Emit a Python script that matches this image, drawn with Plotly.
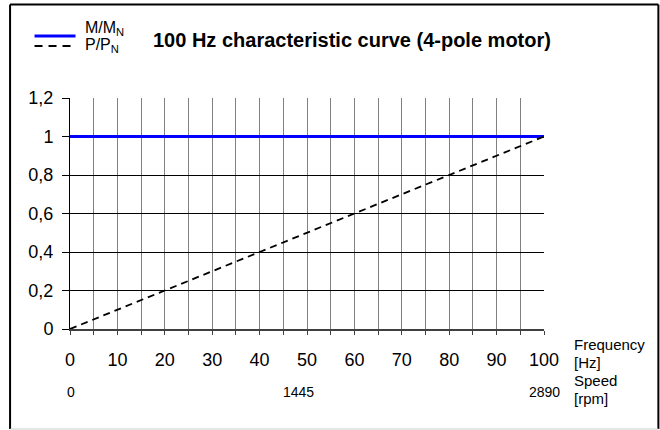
import plotly.graph_objects as go

# Characteristic curve data (frequency in Hz, normalised torque and power)
freq_hz = [0, 100]
torque_ratio = [1, 1]
power_ratio = [0, 1]

x_tick_vals = [0, 10, 20, 30, 40, 50, 60, 70, 80, 90, 100]
x_tick_text = ["0", "10", "20", "30", "40", "50", "60", "70", "80", "90", "100"]
y_tick_vals = [0, 0.2, 0.4, 0.6, 0.8, 1, 1.2]
y_tick_text = ["0", "0,2", "0,4", "0,6", "0,8", "1", "1,2"]

speed_pos_hz = [0, 50, 100]
speed_labels = ["0", "1445", "2890"]

W, H = 660, 430
L, R, T, B = 69.5, 116, 98, 101
pw, ph = W - L - R, H - T - B


def px_x(p):
    return (p - L) / pw


def px_y(p):
    return (H - B - p) / ph


FONT = "Liberation Sans, Arial, sans-serif"
DASH = "7px,5px"

fig = go.Figure()
fig.add_trace(go.Scatter(x=freq_hz, y=torque_ratio, mode="lines",
                         line=dict(color="#0000ff", width=3), name="M/M<sub>N</sub>",
                         showlegend=False, cliponaxis=False))
fig.add_trace(go.Scatter(x=freq_hz, y=power_ratio, mode="lines",
                         line=dict(color="#000000", width=1.8, dash=DASH), name="P/P<sub>N</sub>",
                         showlegend=False))

shapes = []
annotations = []

# legend keys drawn as short line samples
legend_items = [
    ("M/M<sub>N</sub>", dict(color="#0000ff", width=3), 36, 28),
    ("P/P<sub>N</sub>", dict(color="#000000", width=1.8, dash="8px,6px"), 46, 45),
]
for label, line, py, ty in legend_items:
    shapes.append(dict(type="line", xref="paper", yref="paper",
                       x0=px_x(34), x1=px_x(75), y0=px_y(py), y1=px_y(py), line=line))
    annotations.append(dict(text=label, xref="paper", yref="paper", x=px_x(83), y=px_y(ty),
                            xanchor="left", yanchor="middle", showarrow=False,
                            font=dict(family=FONT, size=16, color="#000")))

# title
annotations.append(dict(text="<b>100 Hz characteristic curve (4-pole motor)</b>", xref="paper", yref="paper",
                        x=px_x(151), y=px_y(40), xanchor="left", yanchor="middle", showarrow=False,
                        font=dict(family=FONT, size=20, color="#000")))

# speed scale under the frequency axis
speed_shift = [1, -9, 0]
for hz, lab, dx in zip(speed_pos_hz, speed_labels, speed_shift):
    annotations.append(dict(text=lab, xref="x", yref="paper", x=hz, y=px_y(392), xshift=dx,
                            xanchor="center", yanchor="middle", showarrow=False,
                            font=dict(family=FONT, size=14, color="#000")))

# axis captions on the right
for txt, py in [("Frequency", 344), ("[Hz]", 362), ("Speed", 380), ("[rpm]", 398)]:
    annotations.append(dict(text=txt, xref="paper", yref="paper", x=px_x(572), y=px_y(py),
                            xanchor="left", yanchor="middle", showarrow=False,
                            font=dict(family=FONT, size=15, color="#000")))

# outer frame
frame = [(9.5, 4.5, 9.5, 429, "#000", 2), (9.5, 4.5, 658.5, 4.5, "#000", 2),
         (658.5, 4.5, 658.5, 429, "#000", 2), (9.5, 429, 658.5, 429, "#cccccc", 1)]
for x0, y0, x1, y1, c, w in frame:
    shapes.append(dict(type="line", xref="paper", yref="paper",
                       x0=px_x(x0), y0=px_y(y0), x1=px_x(x1), y1=px_y(y1), line=dict(color=c, width=w)))

fig.update_layout(
    width=W, height=H,
    margin=dict(l=L, r=R, t=T, b=B, pad=0),
    paper_bgcolor="white", plot_bgcolor="white",
    font=dict(family=FONT, size=17, color="#000"),
    shapes=shapes, annotations=annotations,
    xaxis=dict(range=[0, 100], tickvals=x_tick_vals, ticktext=x_tick_text,
               showgrid=True, gridcolor="#808080", gridwidth=1,
               minor=dict(dtick=5, showgrid=True, gridcolor="#808080", gridwidth=1,
                          ticks="outside", ticklen=4, tickcolor="#404040", tickwidth=1),
               showline=True, linecolor="#404040", linewidth=2,
               ticks="outside", ticklen=4, tickcolor="#404040", tickwidth=1,
               ticklabelstandoff=9,
               zeroline=False, fixedrange=True, tickfont=dict(size=18)),
    yaxis=dict(range=[0, 1.2], tickvals=y_tick_vals, ticktext=y_tick_text,
               showgrid=True, gridcolor="#000000", gridwidth=1,
               showline=True, linecolor="#000000", linewidth=1,
               ticks="outside", ticklen=7, tickcolor="#000", tickwidth=1,
               ticklabelstandoff=5,
               zeroline=False, fixedrange=True, tickfont=dict(size=18)),
)

fig.write_html("out.html", config=dict(displayModeBar=False))
